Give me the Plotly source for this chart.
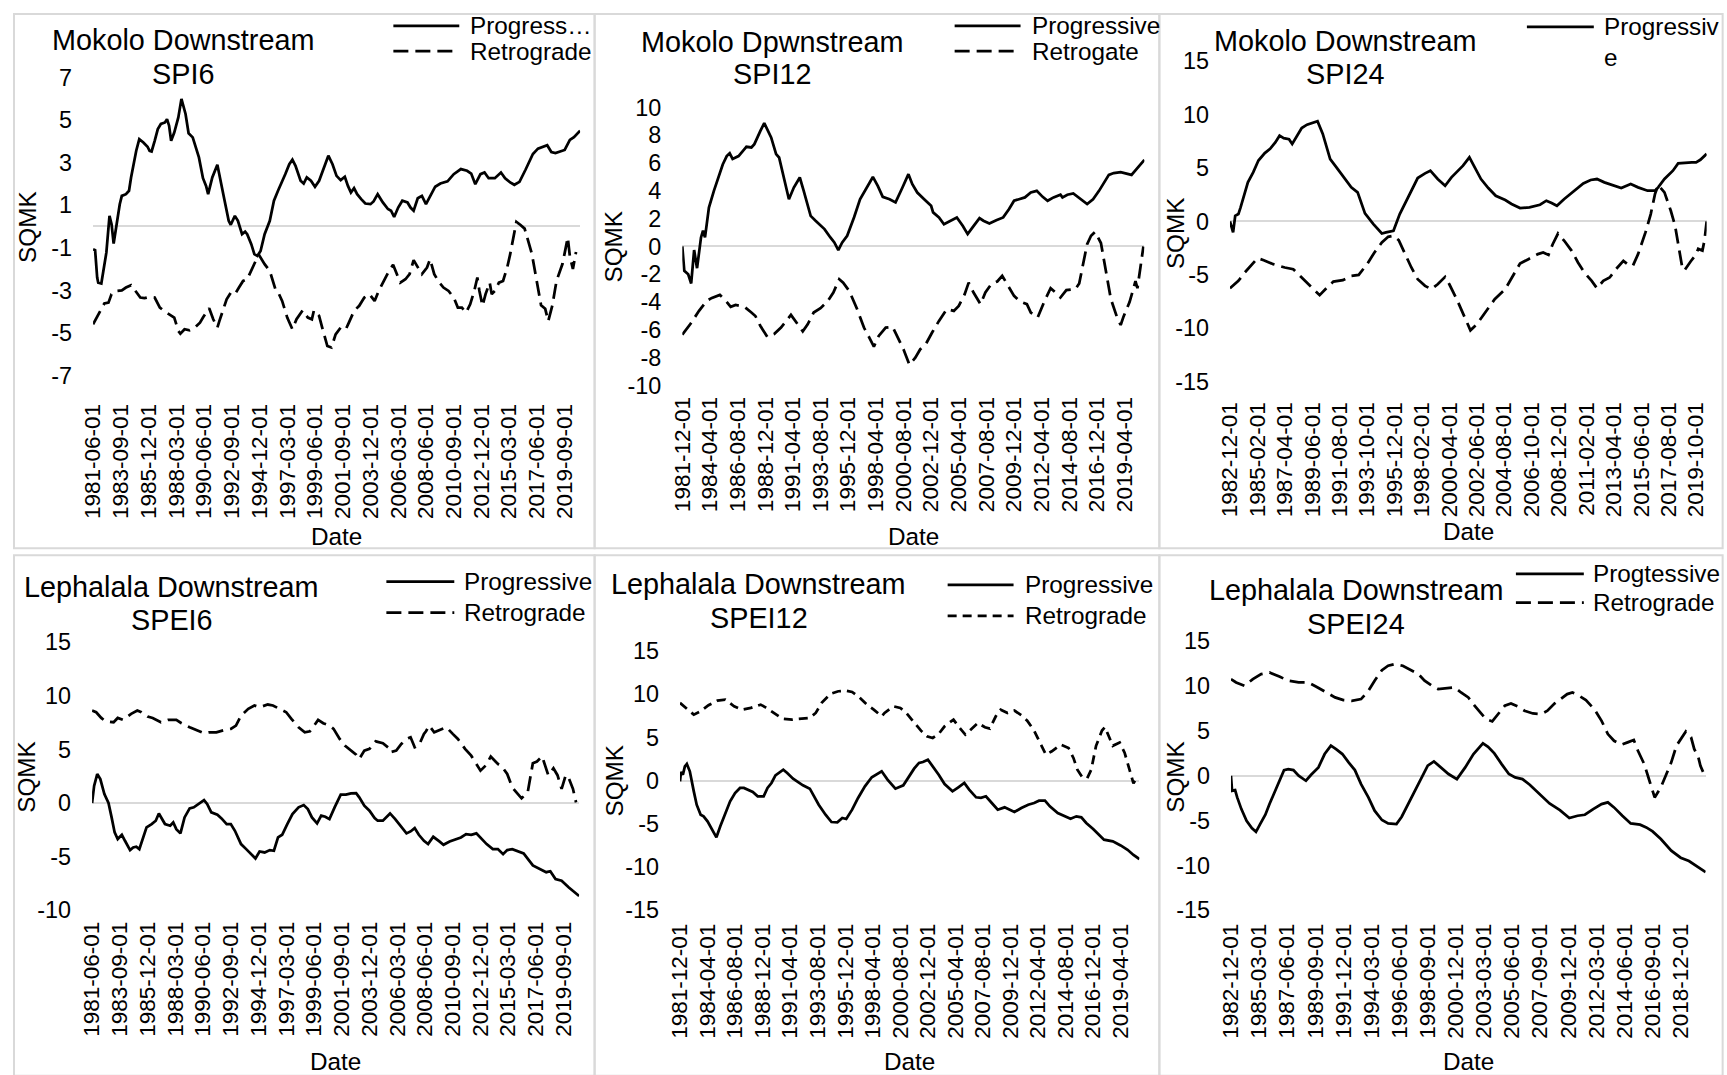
import plotly.graph_objects as go

# ---------------------------------------------------------------------------
# Sequential Mann-Kendall (SQMK) statistics, monthly series.
# Each series is stored as months since the first record and the SQMK value.
# ---------------------------------------------------------------------------

# ---- Mokolo Downstream, SPI6 (first record 1981-06) ----
SPI6_START = "1981-06"
SPI6_PROG_M = [0, 2, 4, 5, 8, 10, 12, 13, 16, 18, 20, 23, 26, 28, 32, 35, 37, 42, 45, 49, 51, 53, 55, 57, 60, 63,
               66, 70, 72, 74, 76, 79, 83, 86, 90, 93, 97, 99, 103, 107, 110, 112, 116, 121, 125, 128, 132, 134,
               138, 141, 145, 148, 150, 154, 157, 160, 163, 167, 172, 176, 180, 183, 187, 191, 194, 197, 202, 205,
               208, 212, 216, 220, 224, 229, 233, 237, 241, 245, 248, 251, 254, 257, 261, 265, 270, 273, 277, 282,
               287, 290, 293, 297, 301, 306, 309, 312, 316, 320, 324, 329, 333, 338, 345, 351, 358, 364, 368, 372,
               377, 381, 385, 391, 397, 401, 406, 410, 415, 421, 428, 433, 442, 446, 450, 459, 464, 468, 474]
SPI6_PROG_V = [-1.07, -1.11, -2.4, -2.64, -2.68, -2.09, -1.46, -1.22, 0.5, 0.11, -0.8, 0.11, 1.05, 1.44, 1.52, 1.68,
               2.3, 3.56, 4.11, 3.95, 3.87, 3.75, 3.56, 3.53, 4.03, 4.58, 4.82, 4.89, 5.05, 4.74, 4.03, 4.42, 5.13,
               6.0, 5.29, 4.38, 4.19, 3.87, 3.25, 2.27, 1.91, 1.52, 2.31, 2.9, 2.0, 1.21, 0.27, 0.08, 0.5, 0.27,
               -0.36, -0.24, -0.36, -0.83, -1.3, -1.38, -1.15, -0.36, 0.27, 1.21, 1.68, 1.99, 2.46, 2.93, 3.14, 2.85,
               2.15, 2.02, 2.31, 2.15, 1.87, 2.15, 2.7, 3.33, 2.93, 2.38, 2.18, 2.34, 1.91, 1.6, 1.8, 1.52, 1.29,
               1.08, 1.05, 1.18, 1.52, 1.13, 0.82, 0.74, 0.45, 0.89, 1.21, 1.13, 0.89, 0.74, 1.33, 1.44, 1.05, 1.52,
               1.87, 2.02, 2.12, 2.46, 2.7, 2.62, 2.49, 1.99, 2.46, 2.54, 2.27, 2.27, 2.54, 2.27, 2.07, 1.96, 2.1,
               2.68, 3.41, 3.66, 3.82, 3.5, 3.45, 3.6, 4.07, 4.2, 4.5]
SPI6_RETRO_M = [0, 2, 6, 11, 15, 18, 22, 28, 32, 37, 40, 46, 50, 55, 60, 65, 70, 74, 79, 83, 85, 89, 94, 99, 104,
                107, 110, 113, 117, 121, 123, 126, 130, 134, 138, 142, 146, 150, 154, 159, 162, 167, 172, 175, 178,
                181, 184, 189, 194, 198, 204, 209, 213, 215, 220, 223, 228, 232, 236, 241, 246, 249, 254, 259, 264,
                269, 274, 278, 283, 288, 292, 296, 299, 304, 308, 312, 316, 320, 325, 328, 332, 337, 341, 346, 351,
                355, 359, 363, 367, 371, 374, 376, 379, 382, 386, 388, 391, 395, 399, 403, 406, 409, 412, 416, 420,
                427, 432, 436, 440, 443, 447, 451, 457, 462, 464, 467, 470]
SPI6_RETRO_V = [-4.6, -4.41, -4.05, -3.62, -3.58, -3.18, -3.03, -3.0, -2.87, -2.76, -2.95, -3.34, -3.37, -3.31,
                -3.34, -3.81, -4.0, -4.13, -4.28, -4.91, -5.04, -4.83, -4.88, -4.75, -4.52, -4.28, -4.05, -3.84,
                -4.36, -4.75, -4.44, -3.97, -3.42, -3.11, -3.18, -2.87, -2.56, -2.48, -2.09, -1.54, -1.38, -1.77,
                -2.09, -2.56, -3.03, -3.18, -3.5, -4.28, -4.83, -4.36, -3.94, -4.28, -4.36, -3.94, -4.2, -4.75,
                -5.62, -5.69, -5.07, -4.75, -4.83, -4.52, -3.97, -3.73, -3.34, -3.18, -3.5, -3.03, -2.56, -2.09,
                -1.8, -2.24, -2.64, -2.48, -2.24, -1.58, -1.93, -2.24, -1.93, -1.54, -2.24, -2.64, -2.87, -3.03,
                -3.34, -3.81, -3.81, -4.05, -3.66, -3.03, -2.4, -3.03, -3.73, -3.18, -2.64, -3.18, -3.03, -2.64,
                -2.56, -1.93, -1.3, -0.6, 0.22, 0.07, -0.1, -1.28, -2.56, -3.7, -3.87, -4.45, -3.7, -2.56, -1.74,
                -0.52, -1.4, -2.0, -1.2]
SPI6_XTICKS = ["1981-06-01", "1983-09-01", "1985-12-01", "1988-03-01", "1990-06-01", "1992-09-01", "1994-12-01",
               "1997-03-01", "1999-06-01", "2001-09-01", "2003-12-01", "2006-03-01", "2008-06-01", "2010-09-01",
               "2012-12-01", "2015-03-01", "2017-06-01", "2019-09-01"]
SPI6_YTICKS = [-7, -5, -3, -1, 1, 3, 5, 7]

# ---- Mokolo Downstream, SPI12 (first record 1981-12) ----
SPI12_START = "1981-12"
SPI12_PROG_M = [0, 2, 6, 9, 12, 15, 19, 21, 23, 27, 32, 36, 41, 45, 48, 51, 57, 63, 65, 70, 73, 79, 83, 90, 95, 98,
                103, 108, 113, 119, 123, 130, 135, 144, 150, 154, 158, 162, 167, 174, 180, 186, 193, 198, 203, 210,
                216, 223, 229, 233, 238, 245, 252, 254, 260, 265, 271, 278, 284, 289, 294, 301, 305, 311, 318, 325,
                331, 336, 341, 347, 353, 359, 365, 370, 376, 383, 385, 390, 396, 403, 410, 416, 422, 432, 437, 444,
                455, 468]
SPI12_PROG_V = [0.0, -1.75, -2.0, -2.66, -0.26, -1.56, 0.65, 1.13, 0.65, 2.8, 4.0, 4.84, 5.9, 6.5, 6.7, 6.3, 6.5,
                7.0, 7.17, 7.12, 7.36, 8.3, 8.87, 7.84, 6.64, 6.4, 4.84, 3.4, 4.24, 4.96, 4.0, 2.2, 1.85, 1.25, 0.65,
                0.29, -0.26, 0.29, 0.77, 2.1, 3.4, 4.12, 5.0, 4.36, 3.57, 3.4, 3.17, 4.24, 5.2, 4.48, 3.88, 3.4,
                2.93, 2.45, 2.09, 1.6, 1.85, 2.09, 1.49, 0.89, 1.37, 2.04, 1.85, 1.65, 1.89, 2.09, 2.69, 3.29, 3.4,
                3.53, 3.88, 4.0, 3.57, 3.29, 3.53, 3.72, 3.53, 3.72, 3.81, 3.4, 3.05, 3.4, 4.0, 5.15, 5.28, 5.35,
                5.15, 6.23]
SPI12_RETRO_M = [0, 8, 17, 25, 30, 38, 44, 49, 54, 63, 70, 74, 79, 86, 93, 100, 110, 116, 122, 127, 133, 140, 147,
                 153, 159, 163, 169, 177, 184, 189, 194, 199, 206, 213, 218, 224, 230, 236, 241, 247, 253, 260, 268,
                 275, 280, 286, 290, 295, 302, 307, 313, 319, 324, 329, 336, 342, 349, 353, 360, 367, 373, 378, 383,
                 389, 398, 402, 406, 410, 414, 418, 424, 430, 434, 440, 444, 447, 453, 459, 461, 464, 467]
SPI12_RETRO_V = [-6.35, -5.6, -4.63, -3.9, -3.7, -3.48, -3.9, -4.34, -4.2, -4.34, -4.75, -5.0, -5.7, -6.5, -6.3,
                 -5.83, -4.92, -5.54, -6.1, -5.6, -4.75, -4.44, -3.96, -3.31, -2.35, -2.6, -3.19, -4.5, -5.83, -6.5,
                 -7.2, -6.43, -5.83, -5.78, -6.55, -7.39, -8.5, -8.0, -7.39, -6.98, -6.19, -5.35, -4.5, -4.63,
                 -4.27, -3.43, -2.6, -3.31, -4.15, -3.31, -2.7, -2.52, -2.11, -2.7, -3.55, -3.96, -4.15, -4.75,
                 -5.1, -3.9, -3.0, -3.31, -3.67, -3.14, -3.07, -2.66, -1.27, 0.17, 0.77, 1.05, 0.25, -2.0, -3.77,
                 -5.03, -5.65, -5.03, -4.0, -2.5, -3.0, -1.5, 0.0]
SPI12_XTICKS = ["1981-12-01", "1984-04-01", "1986-08-01", "1988-12-01", "1991-04-01", "1993-08-01", "1995-12-01",
                "1998-04-01", "2000-08-01", "2002-12-01", "2005-04-01", "2007-08-01", "2009-12-01", "2012-04-01",
                "2014-08-01", "2016-12-01", "2019-04-01"]
SPI12_YTICKS = [-10, -8, -6, -4, -2, 0, 2, 4, 6, 8, 10]

# ---- Mokolo Downstream, SPI24 (first record 1982-12) ----
SPI24_START = "1982-12"
SPI24_PROG_M = [0, 3, 5, 8, 10, 14, 17, 22, 27, 33, 38, 43, 47, 51, 56, 59, 63, 68, 73, 77, 83, 88, 95, 101, 109,
                115, 121, 128, 136, 144, 148, 155, 161, 171, 178, 185, 190, 197, 204, 210, 221, 227, 233, 238, 245,
                252, 261, 267, 275, 284, 294, 300, 305, 310, 317, 325, 335, 342, 348, 355, 362, 371, 380, 387, 396,
                403, 406, 412, 420, 425, 438, 442, 446, 452]
SPI24_PROG_V = [0.0, -1.03, 0.53, 0.69, 1.3, 2.56, 3.66, 4.6, 5.7, 6.4, 6.8, 7.4, 8.03, 7.8, 7.7, 7.25, 7.94, 8.75,
                9.06, 9.19, 9.38, 8.19, 5.84, 5.06, 3.97, 3.19, 2.72, 0.75, -0.25, -1.13, -1.03, -0.88, 0.69, 2.72,
                4.06, 4.5, 4.75, 3.97, 3.34, 4.13, 5.22, 6.0, 4.9, 3.97, 3.13, 2.4, 2.0, 1.63, 1.25, 1.31, 1.56,
                1.94, 1.72, 1.47, 2.1, 2.72, 3.56, 3.88, 3.97, 3.66, 3.44, 3.13, 3.5, 3.19, 2.88, 2.88, 3.19, 3.97,
                4.75, 5.43, 5.53, 5.53, 5.77, 6.33]
SPI24_RETRO_M = [0, 8, 14, 21, 26, 32, 41, 52, 60, 68, 76, 81, 85, 92, 98, 107, 115, 122, 130, 137, 144, 150, 155,
                 160, 166, 172, 178, 185, 191, 197, 204, 208, 215, 223, 228, 234, 242, 251, 261, 268, 275, 283, 292,
                 297, 302, 306, 311, 317, 324, 330, 336, 343, 348, 354, 360, 366, 373, 377, 382, 387, 394, 399, 403,
                 406, 412, 418, 422, 429, 431, 437, 442, 444, 448, 450, 452]
SPI24_RETRO_V = [-6.25, -5.56, -4.78, -4.0, -3.44, -3.63, -4.0, -4.31, -4.47, -5.25, -6.03, -6.56, -6.9, -6.19,
                 -5.63, -5.5, -5.09, -5.0, -4.0, -2.9, -1.97, -1.44, -1.34, -1.75, -3.06, -4.31, -5.41, -6.03, -6.34,
                 -5.88, -5.19, -5.88, -7.28, -9.0, -10.19, -9.63, -8.53, -7.28, -6.34, -5.09, -3.94, -3.53, -3.06,
                 -2.9, -3.13, -2.13, -1.13, -1.81, -2.75, -3.84, -4.78, -5.56, -6.25, -5.56, -5.25, -4.47, -3.69,
                 -4.0, -4.16, -3.06, -1.03, 0.69, 2.56, 3.4, 2.72, 1.0, -0.4, -4.4, -4.57, -3.73, -3.07, -2.57,
                 -2.73, -1.73, 0.0]
SPI24_XTICKS = ["1982-12-01", "1985-02-01", "1987-04-01", "1989-06-01", "1991-08-01", "1993-10-01", "1995-12-01",
                "1998-02-01", "2000-04-01", "2002-06-01", "2004-08-01", "2006-10-01", "2008-12-01", "2011-02-01",
                "2013-04-01", "2015-06-01", "2017-08-01", "2019-10-01"]
SPI24_YTICKS = [-15, -10, -5, 0, 5, 10, 15]

# ---- Lephalala Downstream, SPEI6 (first record 1981-06) ----
SPEI6_START = "1981-06"
SPEI6_PROG_M = [0, 2, 5, 8, 12, 16, 19, 22, 25, 29, 32, 37, 40, 43, 46, 50, 53, 58, 62, 65, 68, 71, 76, 79, 82, 86,
                90, 95, 99, 104, 109, 112, 116, 122, 126, 131, 135, 139, 145, 150, 155, 159, 163, 168, 173, 177,
                181, 185, 190, 195, 201, 206, 210, 214, 219, 223, 227, 231, 236, 242, 247, 252, 257, 260, 265, 270,
                275, 278, 283, 286, 290, 295, 300, 306, 310, 314, 318, 323, 327, 332, 338, 342, 348, 354, 359, 364,
                369, 374, 378, 384, 390, 395, 400, 404, 409, 420, 429, 438, 442, 446, 451, 457, 464, 474]
SPEI6_PROG_V = [0.0, 1.6, 2.7, 2.24, 0.84, 0.0, -1.34, -2.74, -3.36, -2.96, -3.52, -4.39, -4.14, -4.08, -4.3, -3.21,
                -2.27, -1.96, -1.65, -0.97, -1.5, -1.96, -2.12, -1.81, -2.43, -2.83, -1.34, -0.5, -0.4, -0.03, 0.28,
                -0.09, -0.87, -1.09, -1.43, -1.96, -1.96, -2.59, -3.83, -4.3, -4.77, -5.17, -4.52, -4.61, -4.39,
                -4.45, -3.21, -2.96, -1.96, -1.03, -0.4, -0.19, -0.56, -1.34, -1.9, -1.18, -1.28, -1.5, -0.4, 0.78,
                0.78, 0.9, 0.93, 0.53, -0.25, -0.72, -1.4, -1.65, -1.65, -1.34, -0.97, -1.5, -2.12, -2.83, -2.65,
                -2.34, -2.96, -3.52, -3.83, -3.15, -3.58, -3.89, -3.58, -3.36, -3.21, -2.9, -2.96, -2.83, -3.21,
                -3.83, -4.3, -4.3, -4.77, -4.39, -4.3, -4.7, -5.82, -6.29, -6.45, -6.36, -7.09, -7.25, -7.88, -8.67]
SPEI6_RETRO_M = [0, 4, 9, 13, 21, 25, 30, 34, 38, 44, 48, 54, 59, 67, 74, 82, 87, 95, 103, 109, 114, 121, 129, 135,
                 140, 145, 152, 158, 163, 171, 176, 181, 189, 194, 201, 207, 212, 215, 220, 225, 231, 235, 241, 246,
                 252, 257, 260, 265, 270, 276, 283, 288, 290, 296, 301, 306, 310, 314, 318, 323, 325, 328, 333, 337,
                 341, 345, 351, 356, 363, 369, 374, 378, 383, 388, 395, 399, 404, 409, 413, 418, 424, 429, 433, 438,
                 444, 449, 453, 457, 461, 464, 468, 471]
SPEI6_RETRO_V = [8.63, 8.47, 7.94, 7.63, 7.54, 7.94, 7.76, 8.07, 8.32, 8.63, 8.47, 8.07, 7.94, 7.54, 7.76, 7.76,
                 7.45, 7.07, 6.76, 6.51, 6.6, 6.6, 6.82, 6.92, 7.23, 8.16, 8.79, 9.1, 8.94, 9.19, 9.1, 8.88, 8.47,
                 7.85, 7.07, 6.6, 6.7, 7.07, 7.76, 7.45, 7.23, 6.92, 5.98, 5.36, 4.95, 4.52, 4.11, 4.89, 5.05, 5.76,
                 5.58, 5.2, 4.74, 4.89, 5.51, 5.98, 6.14, 5.2, 5.36, 6.45, 6.7, 7.23, 6.6, 6.76, 6.92, 7.07, 6.45,
                 5.98, 5.05, 4.42, 3.64, 3.02, 3.49, 4.33, 3.64, 3.39, 2.71, 1.46, 1.0, 0.44, 1.02, 3.72, 3.88, 4.35,
                 2.6, 3.24, 2.6, 1.33, 2.6, 2.29, 1.33, 0.06]
SPEI6_XTICKS = SPI6_XTICKS
SPEI6_YTICKS = [-10, -5, 0, 5, 10, 15]

# ---- Lephalala Downstream, SPEI12 (first record 1981-12) ----
SPEI12_START = "1981-12"
SPEI12_PROG_M = [0, 1, 3, 5, 7, 10, 14, 17, 21, 24, 28, 33, 37, 41, 46, 51, 56, 61, 65, 70, 74, 79, 85, 89, 93, 97,
                 102, 105, 109, 115, 119, 125, 132, 136, 141, 148, 154, 160, 165, 169, 175, 181, 188, 195, 200, 205,
                 211, 219, 227, 233, 238, 243, 247, 252, 257, 263, 269, 277, 283, 289, 294, 301, 306, 311, 317, 323,
                 330, 335, 340, 347, 354, 360, 365, 371, 376, 384, 391, 397, 403, 408, 413, 420, 431, 440, 448, 455,
                 461, 467]
SPEI12_PROG_V = [-0.08, 1.0, 0.7, 1.66, 1.93, 1.08, -1.24, -2.78, -3.94, -4.13, -4.71, -5.68, -6.56, -5.29, -3.75,
                 -2.39, -1.43, -0.85, -0.85, -1.16, -1.31, -1.81, -1.81, -0.85, -0.27, 0.62, 1.08, 1.27, 0.89, 0.23,
                 -0.08, -0.54, -0.93, -1.7, -2.78, -3.94, -4.79, -4.83, -4.32, -4.44, -3.36, -2.0, -0.66, 0.39, 0.77,
                 1.08, 0.12, -0.93, -0.54, 0.5, 1.39, 2.05, 2.16, 2.43, 1.66, 0.69, -0.39, -1.24, -0.77, -0.27,
                 -1.04, -1.93, -2.0, -1.81, -2.59, -3.36, -3.09, -3.36, -3.63, -3.17, -2.78, -2.59, -2.32, -2.32,
                 -2.97, -3.75, -4.13, -4.4, -4.13, -4.25, -4.9, -5.6, -6.83, -7.03, -7.5, -8.0, -8.6, -9.08]
SPEI12_RETRO_M = [0, 6, 14, 21, 29, 38, 46, 55, 63, 72, 82, 87, 95, 104, 114, 122, 132, 138, 144, 153, 161, 168,
                  175, 181, 190, 197, 205, 208, 217, 224, 230, 237, 245, 251, 257, 263, 269, 278, 283, 290, 296, 303,
                  310, 315, 321, 326, 333, 340, 347, 353, 360, 366, 372, 378, 387, 395, 400, 404, 409, 414, 418, 423,
                  429, 432, 436, 440, 447, 452, 455, 461, 463, 466]
SPEI12_RETRO_V = [9.0, 8.42, 7.64, 8.03, 8.73, 9.27, 9.38, 8.61, 8.22, 8.42, 8.8, 8.49, 7.84, 7.18, 7.07, 7.14,
                  7.26, 7.84, 9.0, 10.04, 10.35, 10.42, 10.27, 9.77, 8.8, 8.22, 7.45, 7.84, 8.61, 8.42, 7.84, 6.87,
                  5.79, 5.14, 4.94, 5.41, 6.29, 7.07, 6.29, 5.33, 5.91, 6.68, 6.18, 6.02, 7.45, 8.22, 7.84, 8.11,
                  7.57, 6.95, 5.79, 4.36, 3.01, 3.4, 4.17, 3.78, 2.63, 1.27, 0.39, 0.28, 1.26, 4.03, 5.8, 6.2, 5.21,
                  4.03, 4.42, 3.24, 2.05, -0.32, 0.08, 0.08]
SPEI12_XTICKS = SPI12_XTICKS
SPEI12_YTICKS = [-15, -10, -5, 0, 5, 10, 15]

# ---- Lephalala Downstream, SPEI24 (first record 1982-12) ----
SPEI24_START = "1982-12"
SPEI24_PROG_M = [0, 1, 4, 6, 10, 15, 20, 24, 28, 33, 37, 42, 47, 51, 55, 60, 65, 72, 77, 84, 90, 96, 101, 107, 113,
                 119, 125, 132, 138, 145, 151, 159, 164, 170, 177, 183, 189, 195, 201, 209, 217, 225, 233, 242, 247,
                 253, 260, 267, 273, 280, 287, 296, 306, 316, 325, 333, 340, 348, 356, 362, 368, 376, 384, 393, 399,
                 405, 413, 423, 432, 440, 447, 456]
SPEI24_PROG_V = [0.0, -1.67, -1.6, -2.42, -3.72, -5.02, -5.84, -6.25, -5.39, -4.35, -3.16, -1.86, -0.48, 0.63, 0.74,
                 0.63, 0.0, -0.56, 0.11, 0.93, 2.42, 3.35, 2.97, 2.42, 1.49, 0.63, -0.93, -2.42, -3.9, -4.94, -5.32,
                 -5.39, -4.57, -3.16, -1.67, -0.11, 1.12, 1.6, 1.0, 0.19, -0.37, 0.93, 2.42, 3.61, 3.23, 2.49, 1.3,
                 0.19, -0.19, -0.37, -1.0, -2.04, -3.09, -3.83, -4.72, -4.46, -4.35, -3.72, -3.16, -2.97, -3.53,
                 -4.46, -5.32, -5.46, -5.76, -6.21, -7.06, -8.36, -9.14, -9.51, -10.07, -10.75]
SPEI24_RETRO_M = [0, 5, 13, 21, 29, 37, 47, 55, 65, 74, 82, 90, 100, 108, 116, 125, 132, 138, 145, 151, 157, 165,
                  173, 180, 186, 193, 199, 207, 215, 221, 228, 234, 241, 245, 251, 257, 263, 269, 276, 282, 290, 298,
                  304, 311, 317, 323, 328, 333, 341, 349, 356, 362, 368, 375, 381, 387, 391, 397, 402, 407, 413, 420,
                  423, 428, 437, 442, 445, 449, 451, 454, 456]
SPEI24_RETRO_V = [10.78, 10.41, 10.04, 10.78, 11.34, 11.52, 11.04, 10.6, 10.41, 10.41, 9.93, 9.41, 8.74, 8.44,
                  8.36, 8.55, 9.48, 10.6, 11.78, 12.27, 12.45, 12.27, 11.78, 11.34, 10.6, 10.04, 9.67, 9.78, 9.85,
                  9.29, 8.74, 7.81, 6.88, 6.32, 6.06, 6.88, 7.81, 8.07, 7.7, 7.25, 6.95, 6.88, 7.25, 8.07, 8.55,
                  9.11, 9.29, 9.03, 8.44, 7.43, 6.13, 4.65, 3.9, 3.46, 3.72, 3.98, 2.79, 1.3, -0.56, -2.42, -1.3,
                  0.56, 1.49, 3.36, 4.93, 4.29, 2.99, 2.05, 1.12, 0.3, 0.0]
SPEI24_XTICKS = ["1982-12-01", "1985-03-01", "1987-06-01", "1989-09-01", "1991-12-01", "1994-03-01", "1996-06-01",
                 "1998-09-01", "2000-12-01", "2003-03-01", "2005-06-01", "2007-09-01", "2009-12-01", "2012-03-01",
                 "2014-06-01", "2016-09-01", "2018-12-01"]
SPEI24_YTICKS = [-15, -10, -5, 0, 5, 10, 15]

# ---------------------------------------------------------------------------
# Page geometry and styling.
# Layout positions are given in screen pixels; SCREEN_* describes how page
# pixels (after the 8 px body margin) land on the captured screen.
# ---------------------------------------------------------------------------
BODY_MARGIN = 8
SCREEN_OFF_X, SCREEN_SCALE_X = 5.2, 0.9926
SCREEN_OFF_Y, SCREEN_SCALE_Y = 4.7, 0.975
W, H = 1727, 1090
FONT = "Arial, 'Liberation Sans', Helvetica, sans-serif"
INK = "#000000"
LINE_W = 2.75
LONG_DASH = "15px,7px"
SHORT_DASH = "9px,6px"
TITLE_SIZE, LABEL_SIZE = 28.8, 24.3
XTICK_SIZE, YTICK_SIZE = 22.5, 23.4


def fig_px_x(v):
    return (v - SCREEN_OFF_X) / SCREEN_SCALE_X - BODY_MARGIN


def fig_px_y(v):
    return (v - SCREEN_OFF_Y) / SCREEN_SCALE_Y - BODY_MARGIN


def px_x(v):
    return min(max(fig_px_x(v), 1.0), W - 1.0) / W


def px_y(v):
    return 1 - min(max(fig_px_y(v), 1.0), H - 1.0) / H


def month_to_date(start, m):
    y, mo = (int(s) for s in start.split("-"))
    t = mo - 1 + m
    return f"{y + t // 12:04d}-{t % 12 + 1:02d}-01"


PANELS = [
    dict(start=SPI6_START, pm=SPI6_PROG_M, pv=SPI6_PROG_V, rm=SPI6_RETRO_M, rv=SPI6_RETRO_V,
         xticks=SPI6_XTICKS, yticks=SPI6_YTICKS, yrange=(-7, 7), last=474,
         box=(93.3, 581, 77, 374.5), xstand=23,
         title=("Mokolo Downstream", "SPI6"), tpos=(183, 39.6, 73.8),
         legend=[("Progress\u2026", "solid", 25.3), ("Retrograde", LONG_DASH, 50.7)], lpos=(394, 460, 469),
         dash=LONG_DASH, sq=(27.5, 225.8), date_y=535),
    dict(start=SPI12_START, pm=SPI12_PROG_M, pv=SPI12_PROG_V, rm=SPI12_RETRO_M, rv=SPI12_RETRO_V,
         xticks=SPI12_XTICKS, yticks=SPI12_YTICKS, yrange=(-10, 10), last=468,
         box=(683.3, 1146, 106.8, 384.6), xstand=6,
         title=("Mokolo Dpwnstream", "SPI12"), tpos=(773, 41.9, 73.8),
         legend=[("Progressive", "solid", 25.3), ("Retrogate", LONG_DASH, 50.7)], lpos=(956, 1022, 1031),
         dash=LONG_DASH, sq=(614, 245.7), date_y=535),
    dict(start=SPI24_START, pm=SPI24_PROG_M, pv=SPI24_PROG_V, rm=SPI24_RETRO_M, rv=SPI24_RETRO_V,
         xticks=SPI24_XTICKS, yticks=SPI24_YTICKS, yrange=(-15, 15), last=452,
         box=(1231.7, 1709, 60.6, 380.8), xstand=15,
         title=("Mokolo Downstream", "SPI24"), tpos=(1347, 40.8, 73.8),
         legend=[("Progressiv<br>e", "solid", 26.4)], lpos=(1529, 1596, 1604),
         dash=LONG_DASH, sq=(1177, 232), date_y=530),
    dict(start=SPEI6_START, pm=SPEI6_PROG_M, pv=SPEI6_PROG_V, rm=SPEI6_RETRO_M, rv=SPEI6_RETRO_V,
         xticks=SPEI6_XTICKS, yticks=SPEI6_YTICKS, yrange=(-10, 15), last=474,
         box=(92.3, 580, 641, 908.7), xstand=6,
         title=("Lephalala Downstream", "SPEI6"), tpos=(172, 586, 619),
         legend=[("Progressive", "solid", 580.4), ("Retrograde", LONG_DASH, 611.3)], lpos=(387, 455, 463),
         dash=LONG_DASH, sq=(26.5, 775), date_y=1059.5),
    dict(start=SPEI12_START, pm=SPEI12_PROG_M, pv=SPEI12_PROG_V, rm=SPEI12_RETRO_M, rv=SPEI12_RETRO_V,
         xticks=SPEI12_XTICKS, yticks=SPEI12_YTICKS, yrange=(-15, 15), last=467,
         box=(681, 1141, 649.8, 908.7), xstand=8,
         title=("Lephalala Downstream", "SPEI12"), tpos=(760, 582.6, 616.8),
         legend=[("Progressive", "solid", 583.7), ("Retrograde", SHORT_DASH, 614.6)], lpos=(949, 1015, 1024),
         dash=SHORT_DASH, sq=(615, 779), date_y=1059.5),
    dict(start=SPEI24_START, pm=SPEI24_PROG_M, pv=SPEI24_PROG_V, rm=SPEI24_RETRO_M, rv=SPEI24_RETRO_V,
         xticks=SPEI24_XTICKS, yticks=SPEI24_YTICKS, yrange=(-15, 15), last=456,
         box=(1232.7, 1708, 640, 908.7), xstand=8,
         title=("Lephalala Downstream", "SPEI24"), tpos=(1358, 589.2, 622.3),
         legend=[("Progtessive", "solid", 572.7), ("Retrograde", LONG_DASH, 601.4)], lpos=(1518, 1586, 1593),
         dash=LONG_DASH, sq=(1177, 775), date_y=1059.5),
]

fig = go.Figure()
layout = {}
annotations = []
shapes = []

for i, p in enumerate(PANELS, start=1):
    xref = "x" if i == 1 else f"x{i}"
    yref = "y" if i == 1 else f"y{i}"
    x0, x1, ytop, ybot = p["box"]

    fig.add_trace(go.Scatter(
        x=[month_to_date(p["start"], m) for m in p["pm"]], y=p["pv"], mode="lines",
        line=dict(color=INK, width=LINE_W), xaxis=xref, yaxis=yref,
        showlegend=False, hoverinfo="skip"))
    fig.add_trace(go.Scatter(
        x=[month_to_date(p["start"], m) for m in p["rm"]], y=p["rv"], mode="lines",
        line=dict(color=INK, width=LINE_W, dash=p["dash"]), xaxis=xref, yaxis=yref,
        showlegend=False, hoverinfo="skip"))

    lo, hi = p["yrange"]
    pad = (hi - lo) * 1e-4
    layout["xaxis" if i == 1 else f"xaxis{i}"] = dict(
        domain=[px_x(x0), px_x(x1)], anchor=yref, type="date",
        range=[month_to_date(p["start"], 0), month_to_date(p["start"], p["last"])],
        tickmode="array", tickvals=p["xticks"], ticktext=p["xticks"], tickangle=-90,
        ticks="", showgrid=False, zeroline=False, showline=False, ticklabelstandoff=p["xstand"],
        tickfont=dict(family=FONT, size=XTICK_SIZE, color=INK), fixedrange=True)
    layout["yaxis" if i == 1 else f"yaxis{i}"] = dict(
        domain=[px_y(ybot), px_y(ytop)], anchor=xref, range=[lo - pad, hi + pad],
        tickmode="array", tickvals=p["yticks"], ticktext=[str(v) for v in p["yticks"]],
        ticks="", showgrid=False, showline=False, zeroline=True, zerolinecolor="#d9d9d9",
        zerolinewidth=2, ticklabelstandoff=20,
        tickfont=dict(family=FONT, size=YTICK_SIZE, color=INK), fixedrange=True)

    # two-line chart title
    tx, ty1, ty2 = p["tpos"]
    for txt, ty in ((p["title"][0], ty1), (p["title"][1], ty2)):
        annotations.append(dict(text=txt, x=px_x(tx), y=px_y(ty), xref="paper", yref="paper",
                                xanchor="center", yanchor="middle", showarrow=False,
                                font=dict(family=FONT, size=TITLE_SIZE, color=INK)))

    # legend: line sample + label
    lx0, lx1, ltx = p["lpos"]
    for label, dash, ly in p["legend"]:
        shapes.append(dict(type="line", xref="paper", yref="paper",
                           x0=px_x(lx0), x1=px_x(lx1), y0=px_y(ly), y1=px_y(ly),
                           line=dict(color=INK, width=LINE_W, dash=dash)))
        for k, part in enumerate(label.split("<br>")):
            annotations.append(dict(text=part, x=px_x(ltx), y=px_y(ly + 31 * k), xref="paper", yref="paper",
                                    xanchor="left", yanchor="middle", showarrow=False,
                                    font=dict(family=FONT, size=LABEL_SIZE, color=INK)))

    # axis titles
    sqx, sqy = p["sq"]
    annotations.append(dict(text="SQMK", x=px_x(sqx), y=px_y(sqy), xref="paper",
                            yref="paper", xanchor="center", yanchor="middle", textangle=-90, showarrow=False,
                            font=dict(family=FONT, size=LABEL_SIZE, color=INK)))
    annotations.append(dict(text="Date", x=px_x((x0 + x1) / 2), y=px_y(p["date_y"]), xref="paper",
                            yref="paper", xanchor="center", yanchor="middle", showarrow=False,
                            font=dict(family=FONT, size=LABEL_SIZE, color=INK)))

# cell borders around the six charts
BORDER = dict(color="#d9d9d9", width=2)
for (bx0, bx1) in ((8.5, 595.5), (595.5, 1161), (1161, 1725)):
    for (by0, by1) in ((5.5, 547), (554, 1074)):
        shapes.append(dict(type="rect", xref="paper", yref="paper",
                           x0=px_x(bx0), x1=px_x(bx1), y0=px_y(by1), y1=px_y(by0),
                           line=BORDER, fillcolor="rgba(0,0,0,0)", layer="below"))

fig.update_layout(
    width=W, height=H, margin=dict(l=0, r=0, t=0, b=0),
    paper_bgcolor="white", plot_bgcolor="white",
    font=dict(family=FONT, color=INK),
    annotations=annotations, shapes=shapes, showlegend=False,
    **layout)

fig.write_html("out.html", config=dict(displayModeBar=False, responsive=False))
